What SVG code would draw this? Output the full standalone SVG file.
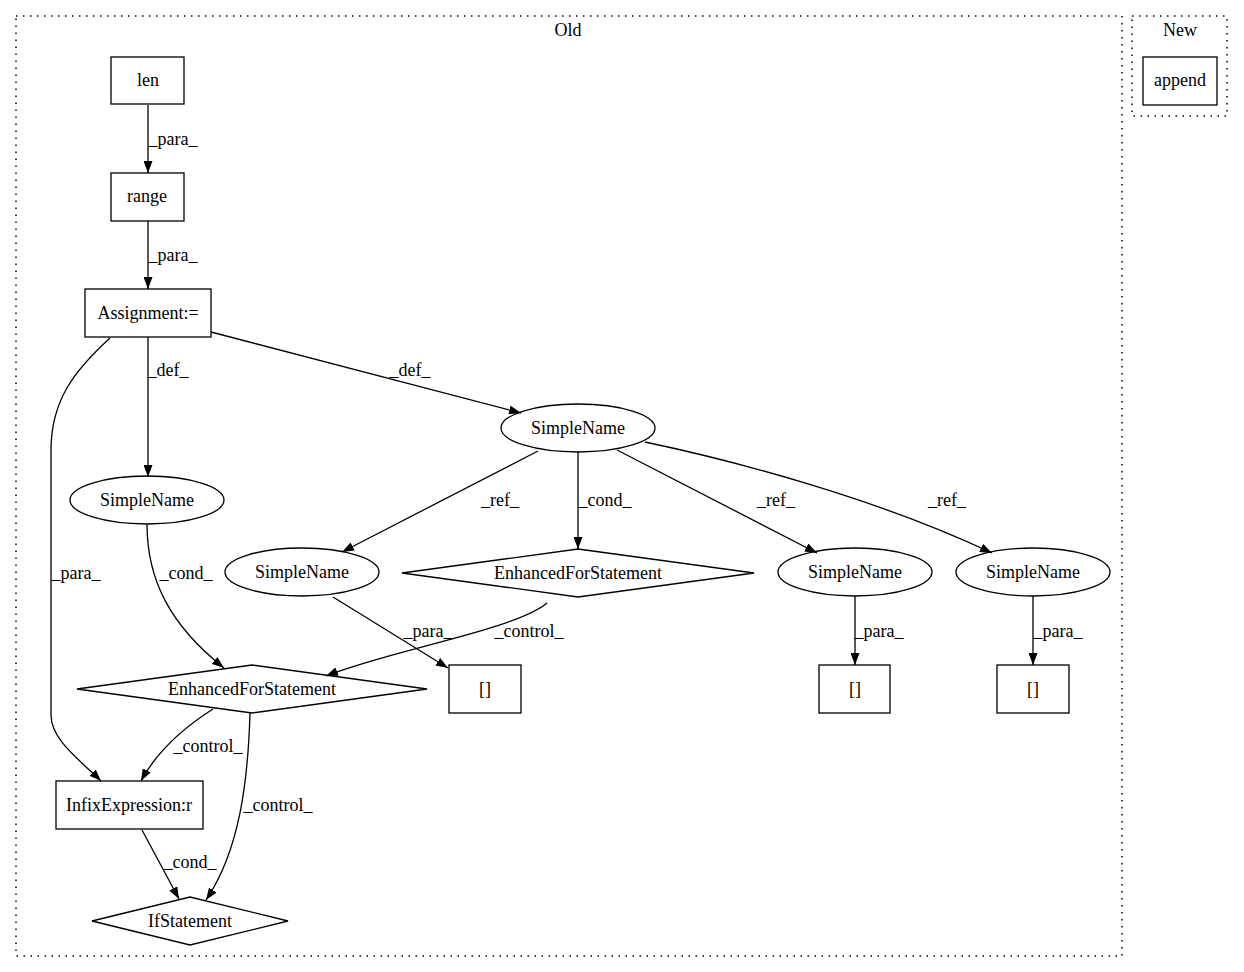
<svg xmlns="http://www.w3.org/2000/svg" width="1244" height="972" viewBox="0 0 1244 972">
<style>
text{font-family:"Liberation Serif","Times New Roman",serif;font-size:18px;fill:#000;text-anchor:middle}
.n{fill:none;stroke:#000;stroke-width:1.3}
.c{fill:none;stroke:#000;stroke-width:1.5;stroke-dasharray:1.5,5.5}
.e{fill:none;stroke:#000;stroke-width:1.3;marker-end:url(#ah)}
</style>
<defs>
<marker id="ah" viewBox="0 0 12 9" refX="12" refY="4.5" markerWidth="12" markerHeight="9" orient="auto" markerUnits="userSpaceOnUse">
<path d="M0,0 L12,4.5 L0,9 z" fill="#000"/>
</marker>
</defs>
<rect width="1244" height="972" fill="#fff"/>
<g id="cluster_old">
<rect class="c" x="16" y="16" width="1106" height="940"/>
<text x="568" y="36">Old</text>
</g>
<g id="cluster_new">
<rect class="c" x="1132" y="16" width="95" height="100"/>
<text x="1180" y="36">New</text>
</g>
<g id="connectors">
<path class="e" d="M148,105 L148,173"/>
<text x="173" y="145">_para_</text>
<path class="e" d="M148,221 L148,289"/>
<text x="173" y="261">_para_</text>
<path class="e" d="M148,337 L148,477"/>
<text x="168" y="376">_def_</text>
<path class="e" d="M211,332 L521,413"/>
<text x="410" y="376">_def_</text>
<path class="e" d="M110,338 C75,370 51,400 51,450 L51,715 C51,740 80,760 101,781"/>
<text x="76" y="579">_para_</text>
<path class="e" d="M147,524 C147,580 170,625 224,668"/>
<text x="186" y="579">_cond_</text>
<path class="e" d="M538,451 L342,552"/>
<text x="500" y="506">_ref_</text>
<path class="e" d="M578,452 L578,549"/>
<text x="605" y="506">_cond_</text>
<path class="e" d="M617,450 L817,553"/>
<text x="776" y="506">_ref_</text>
<path class="e" d="M645,442 C740,462 880,500 992,553"/>
<text x="947" y="506">_ref_</text>
<path class="e" d="M333,597 L448,668"/>
<text x="428" y="637">_para_</text>
<path class="e" d="M547,603 C515,630 390,650 326,676"/>
<text x="529" y="637">_control_</text>
<path class="e" d="M855,596 L855,665"/>
<text x="879" y="637">_para_</text>
<path class="e" d="M1033,596 L1033,665"/>
<text x="1058" y="637">_para_</text>
<path class="e" d="M213,709 C180,730 155,755 141,781"/>
<text x="208" y="752">_control_</text>
<path class="e" d="M250,713 C248,780 240,850 206,900"/>
<text x="278" y="811">_control_</text>
<path class="e" d="M142,830 L179,899"/>
<text x="190" y="868">_cond_</text>
</g>
<g id="len"><rect class="n" x="111" y="57" width="73" height="47"/><text x="148" y="86">len</text></g>
<g id="range"><rect class="n" x="111" y="173" width="73" height="48"/><text x="147" y="202">range</text></g>
<g id="assignment"><rect class="n" x="85" y="289" width="126" height="48"/><text x="148" y="319">Assignment:=</text></g>
<g id="simplename_top"><ellipse class="n" cx="578" cy="428" rx="77" ry="24"/><text x="578" y="434">SimpleName</text></g>
<g id="simplename_left"><ellipse class="n" cx="147" cy="500" rx="77" ry="24"/><text x="147" y="506">SimpleName</text></g>
<g id="simplename_mid"><ellipse class="n" cx="302" cy="572" rx="77" ry="24"/><text x="302" y="578">SimpleName</text></g>
<g id="efs_upper"><polygon class="n" points="402,573 578,549 754,573 578,597"/><text x="578" y="579">EnhancedForStatement</text></g>
<g id="simplename_r1"><ellipse class="n" cx="855" cy="572" rx="77" ry="24"/><text x="855" y="578">SimpleName</text></g>
<g id="simplename_r2"><ellipse class="n" cx="1033" cy="572" rx="77" ry="24"/><text x="1033" y="578">SimpleName</text></g>
<g id="efs_lower"><polygon class="n" points="77,689 252,665 427,689 252,713"/><text x="252" y="695">EnhancedForStatement</text></g>
<g id="arr1"><rect class="n" x="449" y="665" width="72" height="48"/><text x="485" y="695">[]</text></g>
<g id="arr2"><rect class="n" x="819" y="665" width="71" height="48"/><text x="855" y="695">[]</text></g>
<g id="arr3"><rect class="n" x="997" y="665" width="72" height="48"/><text x="1033" y="695">[]</text></g>
<g id="infix"><rect class="n" x="56" y="781" width="147" height="48"/><text x="129" y="811">InfixExpression:r</text></g>
<g id="ifstatement"><polygon class="n" points="92,921 190,897 288,921 190,945"/><text x="190" y="927">IfStatement</text></g>
<g id="append"><rect class="n" x="1143" y="57" width="74" height="48"/><text x="1180" y="86">append</text></g>
</svg>
